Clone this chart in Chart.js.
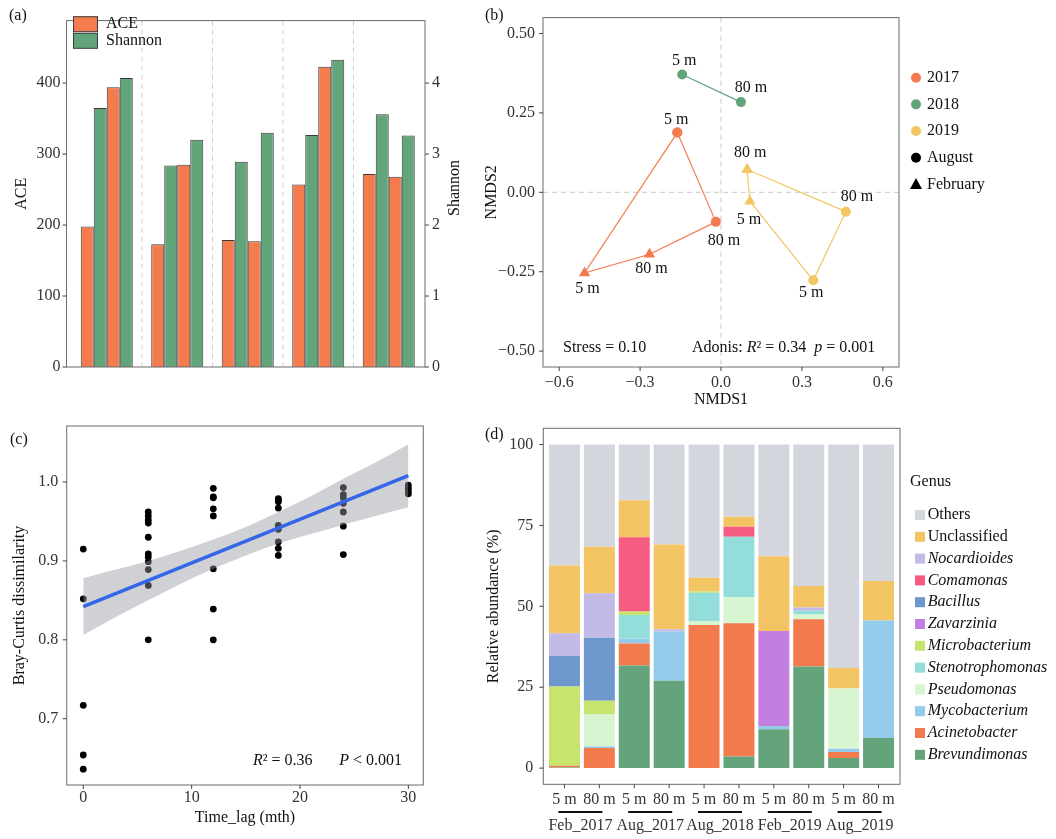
<!DOCTYPE html>
<html>
<head>
<meta charset="utf-8">
<script src="https://cdn.jsdelivr.net/npm/chart.js@4.4.1/dist/chart.umd.min.js"></script>
<style>
  html, body { margin: 0; padding: 0; background: #fff; }
  #wrap { position: relative; width: 1056px; height: 839px; overflow: hidden; }
  canvas { position: absolute; }
</style>
</head>
<body>
<div id="wrap">
  <canvas id="chartA" width="470" height="400" style="left:0;top:0"></canvas>
  <canvas id="chartB" width="586" height="420" style="left:470px;top:0"></canvas>
  <canvas id="chartC" width="470" height="439" style="left:0;top:400px"></canvas>
  <canvas id="chartD" width="586" height="439" style="left:470px;top:400px"></canvas>
</div>
<script>
// ---------- data ----------
// (a) alpha diversity, per sampling time
const sampleTimes = ['Feb_2017', 'Aug_2017', 'Aug_2018', 'Feb_2019', 'Aug_2019'];
const depths = ['5 m', '80 m'];
const ace5 = [198, 173, 179, 257, 272];
const ace80 = [394, 285, 177, 423, 268];
const shannon5 = [3.65, 2.84, 2.89, 3.27, 3.56];
const shannon80 = [4.07, 3.20, 3.30, 4.33, 3.26];

// (b) NMDS ordination
const nmdsSample = ['Feb_2017', 'Feb_2017', 'Aug_2017', 'Aug_2017', 'Aug_2018', 'Aug_2018', 'Feb_2019', 'Feb_2019', 'Aug_2019', 'Aug_2019'];
const nmdsDepth = ['5 m', '80 m', '5 m', '80 m', '5 m', '80 m', '5 m', '80 m', '5 m', '80 m'];
const nmds1 = [-0.506, -0.265, -0.162, -0.019, -0.144, 0.074, 0.107, 0.097, 0.342, 0.463];
const nmds2 = [-0.254, -0.195, 0.188, -0.093, 0.371, 0.284, -0.028, 0.072, -0.277, -0.061];
const years = ['2017', '2018', '2019'];
const hullOrder = { '2017': [2, 3, 1, 0, 2], '2018': [4, 5], '2019': [7, 9, 8, 6, 7] };

// (c) distance-decay
const timeLag = [0, 0, 0, 0, 0,
  6, 6, 6, 6, 6, 6, 6, 6, 6, 6, 6,
  12, 12, 12, 12, 12, 12, 12, 12,
  18, 18, 18, 18, 18, 18, 18, 18, 18,
  24, 24, 24, 24, 24, 24, 24,
  30, 30, 30, 30];
const brayCurtis = [0.915, 0.852, 0.717, 0.654, 0.636,
  0.962, 0.957, 0.952, 0.948, 0.930, 0.909, 0.905, 0.899, 0.889, 0.869, 0.800,
  0.992, 0.981, 0.980, 0.966, 0.957, 0.890, 0.839, 0.800,
  0.979, 0.977, 0.975, 0.967, 0.945, 0.940, 0.924, 0.916, 0.907,
  0.993, 0.984, 0.980, 0.973, 0.962, 0.944, 0.908,
  0.996, 0.992, 0.988, 0.985];
const fitX = [0, 30];
const fitY = [0.842, 1.008];
const bandX = [0, 3, 6, 9, 12, 15, 18, 21, 24, 27, 30];
const bandUpper = [0.878, 0.889, 0.900, 0.913, 0.927, 0.943, 0.962, 0.982, 1.004, 1.025, 1.048];
const bandLower = [0.806, 0.829, 0.850, 0.871, 0.890, 0.907, 0.922, 0.934, 0.946, 0.957, 0.968];

// (d) relative abundance (%), stacked bottom-up
const genera = ['Brevundimonas', 'Acinetobacter', 'Mycobacterium', 'Pseudomonas', 'Stenotrophomonas',
  'Microbacterium', 'Zavarzinia', 'Bacillus', 'Comamonas', 'Nocardioides', 'Unclassified', 'Others'];
const brevundimonas    = [0.2, 0, 31.7, 27.0, 0, 3.6, 12.0, 31.4, 3.1, 9.3];
const acinetobacter    = [0.5, 6.2, 6.8, 0, 44.2, 41.2, 0, 14.6, 1.9, 0];
const mycobacterium    = [0, 0.5, 1.5, 15.2, 0, 0, 1.0, 0, 1.0, 36.3];
const pseudomonas      = [0, 10.0, 0, 0, 1.1, 8.0, 0, 1.5, 18.6, 0];
const stenotrophomonas = [0, 0, 7.3, 0, 8.9, 18.7, 0, 1.1, 0, 0];
const microbacterium   = [24.5, 4.1, 1.1, 0, 0.4, 0, 0, 0, 0, 0];
const zavarzinia       = [0, 0, 0, 0, 0, 0, 29.4, 0, 0, 0];
const bacillus         = [9.5, 19.5, 0, 0, 0, 0, 0, 0, 0, 0];
const comamonas        = [0, 0, 22.9, 0, 0, 3.1, 0, 0, 0, 0];
const nocardioides     = [7.0, 13.7, 0, 0.7, 0, 0, 0, 1.0, 0, 0];
const unclassified     = [20.9, 14.4, 11.5, 26.2, 4.2, 3.1, 23.1, 6.7, 6.3, 12.2];
const others           = [37.4, 31.6, 17.2, 30.9, 41.2, 22.3, 34.5, 43.7, 69.1, 42.2];
const abundance = [brevundimonas, acinetobacter, mycobacterium, pseudomonas, stenotrophomonas,
  microbacterium, zavarzinia, bacillus, comamonas, nocardioides, unclassified, others];

// ---------- styles ----------
const SERIF = '"Liberation Serif", "Times New Roman", serif';
const ORANGE = '#F37B4E', GREEN = '#63A57A', YELLOW = '#F2C662';
const yearColor = { '2017': ORANGE, '2018': GREEN, '2019': YELLOW };
const genusColor = {
  Others: '#D4D6DE', Unclassified: '#F3C463', Nocardioides: '#C4BAE8', Comamonas: '#F65C82',
  Bacillus: '#6E98CD', Zavarzinia: '#C47EE0', Microbacterium: '#C6E46E', Stenotrophomonas: '#93DEDA',
  Pseudomonas: '#D8F5D2', Mycobacterium: '#93CBEA', Acinetobacter: '#F27A4D', Brevundimonas: '#64A47A'
};
// label nudges for the NMDS sample names, in px from the point
const labelNudge = [[3, 16], [2, 15], [-1, -13], [8, 19], [2, -14], [10, -14], [-1, 19], [3, -17], [-2, 13], [11, -15]];

Chart.defaults.font.family = SERIF;
Chart.defaults.font.size = 16;
Chart.defaults.color = '#333';
Chart.defaults.animation = false;
Chart.defaults.responsive = false;
Chart.defaults.plugins.legend.display = false;
Chart.defaults.plugins.tooltip.enabled = false;

function text(ctx, str, x, y, o = {}) {
  ctx.save();
  ctx.font = (o.italic ? 'italic ' : '') + (o.size || 16) + 'px ' + SERIF;
  ctx.fillStyle = o.color || '#111';
  ctx.textAlign = o.align || 'left';
  ctx.textBaseline = 'middle';
  ctx.translate(x, y);
  if (o.rotate) ctx.rotate(o.rotate);
  ctx.fillText(str, 0, 0);
  ctx.restore();
}
function richText(ctx, parts, x, y) {
  let cx = x;
  for (const [s, it] of parts) {
    ctx.save();
    ctx.font = (it ? 'italic ' : '') + '16px ' + SERIF;
    ctx.fillStyle = '#111';
    ctx.textBaseline = 'middle';
    ctx.fillText(s, cx, y);
    cx += ctx.measureText(s).width;
    ctx.restore();
  }
}
const fixed = px => s => { if (s.isHorizontal()) s.height = px; else s.width = px; };
const noGrid = { display: false, drawTicks: false };
const noBorder = { display: false };
const minus = v => String(v).replace('-', '\u2212');

// panel frame with outward tick marks
Chart.register({
  id: 'frame',
  afterDraw(chart, args, opts) {
    const { ctx, chartArea: a } = chart;
    const e = opts.expand || [0, 0, 0, 0];
    const L = a.left - e[0], T = a.top - e[1], R = a.right + e[2], B = a.bottom + e[3];
    ctx.save();
    ctx.strokeStyle = '#6b6b6b';
    ctx.lineWidth = 1;
    ctx.strokeRect(L, T, R - L, B - T);
    ctx.strokeStyle = '#444';
    for (const s of Object.values(chart.scales)) {
      if ((opts.skip || []).includes(s.id)) continue;
      s.ticks.forEach((t, i) => {
        const p = s.getPixelForTick(i);
        ctx.beginPath();
        if (s.isHorizontal()) { ctx.moveTo(p, B); ctx.lineTo(p, B + 4); }
        else if (s.position === 'left') { ctx.moveTo(L, p); ctx.lineTo(L - 4, p); }
        else { ctx.moveTo(R, p); ctx.lineTo(R + 4, p); }
        ctx.stroke();
      });
    }
    ctx.restore();
  }
});

// ---------- (a) ----------
const barA = { borderColor: '#3a3a3a', borderWidth: 1, categoryPercentage: 0.738, barPercentage: 1 };
new Chart(document.getElementById('chartA'), {
  type: 'bar',
  data: {
    labels: sampleTimes,
    datasets: [
      { label: 'ACE', data: ace5, yAxisID: 'y', backgroundColor: ORANGE, ...barA },
      { label: 'Shannon', data: shannon5, yAxisID: 'y1', backgroundColor: GREEN, ...barA },
      { label: 'ACE', data: ace80, yAxisID: 'y', backgroundColor: ORANGE, ...barA },
      { label: 'Shannon', data: shannon80, yAxisID: 'y1', backgroundColor: GREEN, ...barA }
    ]
  },
  options: {
    layout: { padding: { top: 9 } },
    scales: {
      x: { ticks: { display: false }, grid: noGrid, border: noBorder, afterFit: fixed(33) },
      y: {
        position: 'left', min: 0, max: 488,
        ticks: { stepSize: 100, includeBounds: false, padding: 11 },
        grid: noGrid, border: noBorder,
        title: { display: true, text: 'ACE', color: '#111', padding: { top: 12 } },
        afterFit: fixed(71.5)
      },
      y1: {
        position: 'right', min: 0, max: 4.88,
        ticks: { stepSize: 1, includeBounds: false, padding: 8 },
        grid: noGrid, border: noBorder,
        afterFit: fixed(46)
      }
    },
    plugins: { frame: { expand: [5, 0, 1, 0], skip: ['x'] } }
  },
  plugins: [{
    id: 'decorA',
    beforeDatasetsDraw(chart) {
      const { ctx, chartArea: a, scales: { x } } = chart;
      ctx.save();
      ctx.strokeStyle = '#cfcfcf';
      ctx.setLineDash([5, 4]);
      for (let i = 0; i < sampleTimes.length - 1; i++) {
        const px = (x.getPixelForValue(i) + x.getPixelForValue(i + 1)) / 2;
        ctx.beginPath(); ctx.moveTo(px, a.top); ctx.lineTo(px, a.bottom); ctx.stroke();
      }
      ctx.restore();
    },
    afterDraw(chart) {
      const { ctx } = chart;
      text(ctx, '(a)', 9, 16);
      text(ctx, 'Shannon', 455, 188, { align: 'center', rotate: -Math.PI / 2 });
      [['ACE', ORANGE, 24.2], ['Shannon', GREEN, 40.8]].forEach(([l, c, y]) => {
        ctx.save();
        ctx.fillStyle = c; ctx.strokeStyle = '#3a3a3a';
        ctx.fillRect(73.5, y - 7.5, 24, 15); ctx.strokeRect(73.5, y - 7.5, 24, 15);
        ctx.restore();
        text(ctx, l, 106, y);
      });
    }
  }]
});

// ---------- (b) ----------
new Chart(document.getElementById('chartB'), {
  type: 'scatter',
  data: {
    datasets: years.map(yr => ({
      label: yr,
      data: hullOrder[yr].map(i => ({ x: nmds1[i], y: nmds2[i], idx: i })),
      showLine: true,
      borderColor: yearColor[yr],
      borderWidth: 1.2,
      backgroundColor: yearColor[yr],
      pointBorderWidth: 0,
      pointStyle: c => nmdsSample[c.raw.idx].startsWith('Feb') ? 'triangle' : 'circle',
      pointRadius: c => nmdsSample[c.raw.idx].startsWith('Feb') ? 6.5 : 5
    }))
  },
  options: {
    layout: { padding: { top: 9, right: 157 } },
    scales: {
      x: {
        type: 'linear', min: -0.66, max: 0.66,
        ticks: { stepSize: 0.3, includeBounds: false, padding: 5.7, callback: v => minus(v.toFixed(1)) },
        grid: noGrid, border: noBorder,
        title: { display: true, text: 'NMDS1', color: '#111', padding: { bottom: 10.4 } },
        afterFit: fixed(53)
      },
      y: {
        min: -0.55, max: 0.55,
        ticks: { stepSize: 0.25, includeBounds: false, padding: 8, callback: v => minus(v.toFixed(2)) },
        grid: noGrid, border: noBorder,
        title: { display: true, text: 'NMDS2', color: '#111', padding: { top: 12 } },
        afterFit: fixed(73)
      }
    },
    plugins: { frame: {} }
  },
  plugins: [{
    id: 'decorB',
    beforeDatasetsDraw(chart) {
      const { ctx, chartArea: a, scales: { x, y } } = chart;
      ctx.save();
      ctx.strokeStyle = '#c8c8c8';
      ctx.setLineDash([5, 4]);
      const x0 = x.getPixelForValue(0), y0 = y.getPixelForValue(0);
      ctx.beginPath(); ctx.moveTo(x0, a.top); ctx.lineTo(x0, a.bottom); ctx.stroke();
      ctx.beginPath(); ctx.moveTo(a.left, y0); ctx.lineTo(a.right, y0); ctx.stroke();
      ctx.restore();
    },
    afterDraw(chart) {
      const { ctx, chartArea: a, scales: { x, y } } = chart;
      nmds1.forEach((v, i) => {
        text(ctx, nmdsDepth[i], x.getPixelForValue(v) + labelNudge[i][0],
          y.getPixelForValue(nmds2[i]) + labelNudge[i][1], { align: 'center' });
      });
      richText(ctx, [['Stress = 0.10', false]], a.left + 20, a.bottom - 19);
      richText(ctx, [['Adonis: ', false], ['R', true], ['\u00B2 = 0.34  ', false], ['p', true], [' = 0.001', false]],
        a.left + 149, a.bottom - 19);
      text(ctx, '(b)', 15, 16);
      // legend
      const lx = 446, tx = 457;
      years.forEach((yr, k) => {
        const ly = 77.7 + k * 26.65;
        ctx.save(); ctx.fillStyle = yearColor[yr];
        ctx.beginPath(); ctx.arc(lx, ly, 5, 0, 2 * Math.PI); ctx.fill(); ctx.restore();
        text(ctx, yr, tx, ly);
      });
      ctx.save(); ctx.fillStyle = '#000';
      ctx.beginPath(); ctx.arc(lx, 157.7, 5, 0, 2 * Math.PI); ctx.fill();
      ctx.beginPath(); ctx.moveTo(lx, 178); ctx.lineTo(lx + 6, 189); ctx.lineTo(lx - 6, 189); ctx.closePath(); ctx.fill();
      ctx.restore();
      text(ctx, 'August', tx, 157.7);
      text(ctx, 'February', tx, 184.3);
    }
  }]
});

// ---------- (c) ----------
new Chart(document.getElementById('chartC'), {
  type: 'scatter',
  data: {
    datasets: [
      {
        label: 'pairs', order: 3,
        data: timeLag.map((t, i) => ({ x: t, y: brayCurtis[i] })),
        backgroundColor: '#000', pointBorderWidth: 0, pointRadius: 3.4
      },
      {
        label: 'lower', order: 2, showLine: true,
        data: bandX.map((t, i) => ({ x: t, y: bandLower[i] })),
        borderWidth: 0, pointRadius: 0, cubicInterpolationMode: 'monotone', fill: false
      },
      {
        label: 'upper', order: 2, showLine: true,
        data: bandX.map((t, i) => ({ x: t, y: bandUpper[i] })),
        borderWidth: 0, pointRadius: 0, cubicInterpolationMode: 'monotone',
        fill: '-1', backgroundColor: 'rgba(150,154,162,0.45)'
      },
      {
        label: 'fit', order: 1, showLine: true,
        data: fitX.map((t, i) => ({ x: t, y: fitY[i] })),
        borderColor: '#3366E8', borderWidth: 3.5, pointRadius: 0
      }
    ]
  },
  options: {
    layout: { padding: { top: 26, right: 46.7 } },
    scales: {
      x: {
        type: 'linear', min: -1.53, max: 31.38,
        ticks: { stepSize: 10, includeBounds: false, padding: 3.5 },
        grid: noGrid, border: noBorder,
        title: { display: true, text: 'Time_lag (mth)', color: '#111', padding: { bottom: 11.4 } },
        afterFit: fixed(54)
      },
      y: {
        min: 0.616, max: 1.071,
        ticks: { stepSize: 0.1, includeBounds: false, padding: 8.4, callback: v => v.toFixed(1) },
        grid: noGrid, border: noBorder,
        title: { display: true, text: 'Bray-Curtis dissimilarity', color: '#111', padding: { top: 10.4 } },
        afterFit: fixed(66.7)
      }
    },
    plugins: { frame: {} }
  },
  plugins: [{
    id: 'decorC',
    afterDraw(chart) {
      const { ctx, chartArea: a } = chart;
      text(ctx, '(c)', 10, 39.3);
      richText(ctx, [['R', true], ['\u00B2 = 0.36', false]], 253, a.bottom - 24.3);
      richText(ctx, [['P', true], [' < 0.001', false]], 339.3, a.bottom - 24.3);
    }
  }]
});

// ---------- (d) ----------
const barSamples = sampleTimes.flatMap(t => depths.map(d => t + ' ' + d));
new Chart(document.getElementById('chartD'), {
  type: 'bar',
  data: {
    labels: barSamples,
    datasets: genera.map((g, k) => ({
      label: g, data: abundance[k], backgroundColor: genusColor[g],
      borderWidth: 0, barPercentage: 0.888, categoryPercentage: 1
    }))
  },
  options: {
    layout: { padding: { top: 28.3, right: 160 } },
    scales: {
      x: {
        stacked: true,
        ticks: { padding: 6, autoSkip: false, maxRotation: 0,
          callback: function (v) { return this.getLabelForValue(v).replace(/^\S+ /, ''); } },
        grid: noGrid, border: noBorder,
        afterFit: fixed(54.7)
      },
      y: {
        stacked: true, min: -5, max: 105,
        ticks: { stepSize: 25, includeBounds: false, padding: 13.7 },
        grid: noGrid, border: noBorder,
        title: { display: true, text: 'Relative abundance (%)', color: '#111', padding: { top: 13.7 } },
        afterFit: fixed(77)
      }
    },
    plugins: { frame: { expand: [3.7, 0, 4, 0] } }
  },
  plugins: [{
    id: 'decorD',
    afterDraw(chart) {
      const { ctx, scales: { x } } = chart;
      text(ctx, '(d)', 15, 35);
      sampleTimes.forEach((t, g) => {
        const cx = (x.getPixelForValue(2 * g) + x.getPixelForValue(2 * g + 1)) / 2 - 1.5;
        ctx.save(); ctx.strokeStyle = '#111'; ctx.lineWidth = 2;
        ctx.beginPath(); ctx.moveTo(cx - 22, 412); ctx.lineTo(cx + 22, 412); ctx.stroke(); ctx.restore();
        text(ctx, t, cx, 425.5, { align: 'center', color: '#333' });
      });
      text(ctx, 'Genus', 440, 81.7);
      genera.slice().reverse().forEach((g, k) => {
        const ly = 115 + k * 21.8;
        ctx.save(); ctx.fillStyle = genusColor[g]; ctx.fillRect(445, ly - 5, 10, 10); ctx.restore();
        text(ctx, g, 457.7, ly, { italic: g !== 'Others' && g !== 'Unclassified' });
      });
    }
  }]
});
</script>
</body>
</html>
